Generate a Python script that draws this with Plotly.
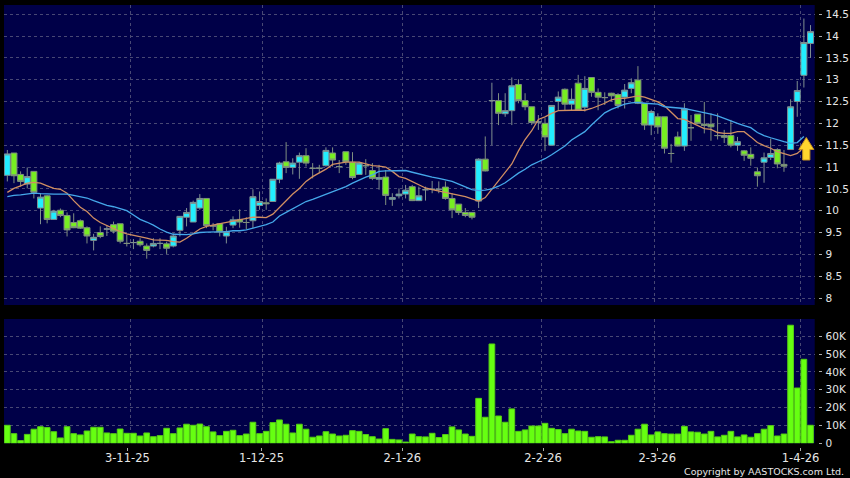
import plotly.graph_objects as go

opens = [10.81,11.32,10.83,10.61,10.90,10.06,10.34,9.80,10.01,9.89,
 9.73,9.77,9.61,9.32,9.50,9.58,9.68,9.70,9.25,9.27,
 9.30,9.19,9.19,9.25,9.24,9.19,9.55,9.85,9.74,10.06,
 10.28,9.65,9.70,9.42,9.67,9.80,9.73,9.77,10.12,10.18,
 10.21,10.72,11.12,10.99,11.11,11.26,10.97,10.97,11.03,11.32,
 11.01,11.35,11.11,10.83,11.03,10.92,10.72,10.77,10.26,10.34,
 10.38,10.55,10.23,10.48,10.49,10.49,10.54,10.28,10.15,9.96,
 9.96,10.22,11.18,12.52,12.52,12.22,12.29,12.89,12.52,12.38,
 12.03,12.00,11.50,12.50,12.78,12.44,12.92,12.37,13.05,12.71,
 12.59,12.69,12.66,12.60,12.80,12.99,12.46,11.96,12.15,12.15,
 11.31,11.69,11.48,11.90,12.21,11.98,11.98,11.72,11.72,11.72,
 11.50,11.37,11.29,10.89,11.11,11.22,11.40,11.06,11.40,12.50,13.10,13.83]
closes = [11.30,10.80,10.67,10.78,10.42,10.31,9.80,9.99,9.89,9.56,
 9.61,9.60,9.42,9.39,9.41,9.58,9.53,9.30,9.25,9.27,
 9.22,9.09,9.25,9.25,9.14,9.42,9.87,9.96,10.19,10.28,
 9.66,9.65,9.51,9.52,9.79,9.74,9.73,10.32,10.21,10.16,
 10.72,11.09,10.99,11.09,11.26,11.09,10.97,10.97,11.38,11.16,
 11.01,11.12,10.76,11.09,11.03,10.74,10.76,10.35,10.30,10.38,
 10.47,10.23,10.34,10.48,10.49,10.49,10.28,10.02,9.96,9.89,
 9.85,11.18,10.91,12.52,12.23,12.29,12.86,12.52,12.38,12.02,
 12.03,11.69,12.41,12.60,12.44,12.55,12.30,12.80,12.71,12.60,
 12.59,12.63,12.41,12.76,12.93,12.46,11.96,12.27,11.92,11.43,
 11.31,11.48,12.33,11.90,12.00,11.95,11.92,11.72,11.68,11.50,
 11.58,11.27,11.20,10.80,11.21,11.31,11.07,11.02,12.38,12.75,13.85,14.10]
highs = [11.39,11.32,10.90,10.99,10.90,10.40,10.36,10.02,10.05,9.96,
 9.94,9.80,9.64,9.47,9.64,9.67,9.75,9.70,9.45,9.35,
 9.37,9.25,9.37,9.37,9.29,9.48,9.87,10.06,10.23,10.38,
 10.28,9.72,9.71,9.63,9.87,10.03,9.85,10.49,10.44,10.28,
 10.72,11.12,11.57,11.20,11.33,11.43,11.09,11.05,11.45,11.45,
 11.16,11.35,11.34,11.12,11.18,11.09,11.05,10.93,10.40,10.51,
 10.59,10.59,10.55,10.55,10.68,10.67,10.67,10.40,10.15,10.06,
 9.96,11.20,11.70,12.93,12.69,12.69,13.05,13.01,12.69,12.38,
 12.19,12.12,12.41,12.73,12.80,12.80,13.11,13.08,13.05,12.80,
 12.71,12.70,12.69,12.90,13.03,13.31,12.46,12.31,12.23,12.15,
 11.53,11.81,12.46,12.19,12.21,12.49,12.23,12.23,11.85,12.08,
 11.69,11.39,11.45,10.99,11.33,11.65,11.43,11.39,12.55,12.97,14.40,14.25]
lows = [10.67,10.63,10.55,10.51,10.28,9.69,9.71,9.79,9.85,9.41,
 9.60,9.58,9.25,9.09,9.37,9.42,9.48,9.25,9.18,9.12,
 9.18,8.90,9.16,9.12,9.01,9.16,9.41,9.64,9.74,10.02,
 9.60,9.55,9.41,9.25,9.60,9.61,9.58,9.60,10.02,10.02,
 10.20,10.63,10.86,10.83,10.73,11.01,10.74,10.86,11.01,11.01,
 10.86,11.05,10.72,10.82,10.82,10.70,10.48,10.13,10.11,10.28,
 10.28,10.22,10.22,10.23,10.40,10.40,10.25,9.83,9.90,9.85,
 9.80,10.06,10.90,11.50,11.96,12.15,11.96,12.46,12.30,11.96,
 11.85,11.37,11.50,12.30,12.30,12.30,12.30,12.27,12.61,12.30,
 12.42,12.50,12.34,12.34,12.69,12.44,11.85,11.73,11.76,11.31,
 11.10,11.47,11.37,11.60,11.98,11.77,11.60,11.63,11.55,11.45,
 11.37,11.14,11.03,10.55,10.64,11.16,10.97,10.89,11.40,12.15,12.82,13.50]
volumes_k = [10.1,5.4,1.5,5.0,7.9,9.3,8.8,6.5,3.0,9.3,
 5.4,4.7,6.9,9.0,9.0,5.8,5.4,8.0,5.6,5.6,
 4.1,5.8,3.7,4.3,8.4,5.4,8.6,10.7,10.1,10.8,
 9.3,6.4,4.3,6.7,7.3,4.3,5.2,11.8,5.4,6.7,
 11.6,13.1,10.7,5.8,10.7,7.9,3.4,4.1,6.5,5.2,
 4.1,4.5,7.1,6.7,4.9,3.7,2.4,8.2,2.2,1.9,
 0.7,5.2,3.7,3.6,5.6,3.2,4.9,9.2,7.5,5.2,
 3.9,25.2,14.6,55.7,15.3,11.8,19.3,6.7,7.5,9.7,
 9.7,11.2,8.4,7.7,5.4,7.9,6.9,6.7,3.4,3.7,
 3.6,0.9,1.7,1.7,4.5,7.9,10.7,4.7,6.4,5.4,
 5.2,5.2,9.5,6.4,6.2,5.2,6.7,3.6,4.5,6.7,
 3.6,4.7,3.4,5.4,7.9,9.9,4.1,5.2,66.2,31.0,47.1,10.1]
ma_short = [10.42,10.51,10.57,10.63,10.65,10.63,10.57,10.51,10.49,10.40,
 10.23,10.08,9.98,9.83,9.73,9.66,9.60,9.52,9.47,9.44,
 9.41,9.37,9.33,9.32,9.32,9.29,9.28,9.37,9.47,9.58,
 9.64,9.67,9.70,9.73,9.77,9.80,9.83,9.85,9.85,9.84,
 9.92,10.08,10.23,10.38,10.51,10.67,10.78,10.86,10.95,11.06,
 11.09,11.11,11.11,11.11,11.07,11.03,11.02,11.00,10.90,10.78,
 10.74,10.67,10.59,10.52,10.48,10.45,10.42,10.38,10.36,10.32,
 10.27,10.22,10.30,10.49,10.69,10.86,11.07,11.37,11.63,11.83,
 12.09,12.15,12.23,12.29,12.30,12.30,12.30,12.30,12.34,12.40,
 12.46,12.54,12.57,12.57,12.60,12.63,12.60,12.55,12.49,12.40,
 12.25,12.11,12.09,12.02,11.94,11.88,11.86,11.79,11.77,11.77,
 11.81,11.81,11.69,11.56,11.49,11.43,11.35,11.30,11.26,11.31,11.45,None]
ma_long = [10.32,10.35,10.36,10.38,10.40,10.39,10.38,10.38,10.38,10.38,
 10.35,10.32,10.29,10.23,10.18,10.12,10.09,10.04,10.00,9.90,
 9.80,9.74,9.67,9.58,9.51,9.46,9.45,9.45,9.47,9.50,
 9.51,9.51,9.51,9.52,9.54,9.54,9.56,9.60,9.65,9.68,
 9.74,9.88,9.96,10.04,10.12,10.21,10.26,10.32,10.38,10.43,
 10.49,10.55,10.63,10.70,10.77,10.82,10.90,10.91,10.91,10.92,
 10.92,10.88,10.84,10.80,10.77,10.74,10.70,10.67,10.61,10.54,
 10.48,10.46,10.47,10.50,10.56,10.64,10.76,10.86,10.95,11.05,
 11.12,11.19,11.28,11.39,11.48,11.62,11.71,11.81,11.96,12.11,
 12.24,12.32,12.38,12.44,12.47,12.48,12.46,12.45,12.44,12.38,
 12.37,12.35,12.34,12.31,12.28,12.24,12.21,12.17,12.11,12.06,
 12.00,11.95,11.90,11.79,11.72,11.67,11.62,11.58,11.54,11.56,11.70,None]
date_labels = ["3-11-25", "1-12-25", "2-1-26", "2-2-26", "2-3-26", "1-4-26"]
date_ticks = [18.08, 38.3, 59.5, 80.7, 97.9, 119.5]
date_grid = [18.5, 38.4, 59.5, 80.5, 97.5, 119.5]
price_ticks = [8, 8.5, 9, 9.5, 10, 10.5, 11, 11.5, 12, 12.5, 13, 13.5, 14, 14.5]
price_labels = ["8", "8.5", "9", "9.5", "10", "10.5", "11", "11.5", "12", "12.5", "13", "13.5", "14", "14.5"]
vol_ticks = [0, 10, 20, 30, 40, 50, 60]
vol_labels = ["0", "10K", "20K", "30K", "40K", "50K", "60K"]

W, H = 850, 478
days = list(range(len(closes)))
BG = "#000048"
GRID = "#484874"
FONT = "DejaVu Sans"
TXT = "#e6e6e6"


def fy(y):
    return (H - y) / H


fig = go.Figure()
fig.add_trace(go.Candlestick(
    x=days, open=opens, high=highs, low=lows, close=closes,
    increasing=dict(fillcolor="#22eeff", line=dict(color="#7f8f8f", width=1)),
    decreasing=dict(fillcolor="#77ee22", line=dict(color="#7f8f7f", width=1)),
    whiskerwidth=0, xaxis="x", yaxis="y", showlegend=False,
))
fig.add_trace(go.Scatter(x=days, y=ma_short, mode="lines", line=dict(color="#d08e62", width=1.3),
                         xaxis="x", yaxis="y", showlegend=False))
fig.add_trace(go.Scatter(x=days, y=ma_long, mode="lines", line=dict(color="#45a8ea", width=1.3),
                         xaxis="x", yaxis="y", showlegend=False))
fig.add_trace(go.Bar(x=days, y=volumes_k, width=0.86,
                     marker=dict(color="#66ff11", line=dict(color="#55cc14", width=1)),
                     xaxis="x2", yaxis="y2", showlegend=False))

xcommon = dict(range=[-0.5, 121.63], showline=False, zeroline=False, showgrid=False, automargin=False,
               rangeslider=dict(visible=False), domain=[4 / W, 814.7 / W],
               minor=dict(tickvals=date_grid, showgrid=True, gridcolor=GRID, griddash="3px,3px",
                          gridwidth=1, ticks=""))
ycommon = dict(side="right", zeroline=False, showline=False, showgrid=True, gridcolor=GRID, automargin=False,
               griddash="3px,3px", gridwidth=1, ticks="outside", ticklen=3, tickcolor="#aaaaaa",
               tickfont=dict(family=FONT, size=10.5, color=TXT), anchor="free", position=817.5 / W,
               ticklabelstandoff=2)

fig.update_layout(
    template="none",
    width=W, height=H, margin=dict(l=0, r=0, t=0, b=0, pad=0),
    paper_bgcolor="#000000", plot_bgcolor=BG, boxmode="overlay", boxgap=0.1, boxgroupgap=0, bargap=0.1,
    showlegend=False,
    font=dict(family=FONT, color=TXT),
    xaxis=dict(xcommon, showticklabels=False, ticks="", anchor="y"),
    xaxis2=dict(xcommon, anchor="free", position=fy(446.5), tickmode="array", tickvals=date_ticks,
                ticktext=date_labels, ticks="outside", ticklen=3, tickcolor="#aaaaaa",
                tickfont=dict(family=FONT, size=11.5, color=TXT), tickangle=0, ticklabelstandoff=-2),
    yaxis=dict(ycommon, domain=[fy(305), fy(5)], range=[7.84, 14.71], tickmode="array",
               tickvals=price_ticks, ticktext=price_labels),
    yaxis2=dict(ycommon, domain=[fy(443.3), fy(319)], range=[0, 69.7], tickmode="array",
                tickvals=vol_ticks, ticktext=vol_labels),
    annotations=[dict(text="Copyright by AASTOCKS.com Ltd.", xref="paper", yref="paper",
                      x=846 / W, y=fy(471), xanchor="right", yanchor="middle", showarrow=False,
                      font=dict(family=FONT, size=9.5, color=TXT))],
)


def arrow_path(cx, top, head, bot, hw, sw):
    pts = [(cx, top), (cx + hw, head), (cx + sw, head), (cx + sw, bot),
           (cx - sw, bot), (cx - sw, head), (cx - hw, head)]
    return "M " + " L ".join(f"{x / W:.5f},{fy(y):.5f}" for x, y in pts) + " Z"


fig.add_shape(type="path", xref="paper", yref="paper", path=arrow_path(806.3, 137.5, 149.5, 160, 7.5, 3.6),
              fillcolor="#ffd62e", line=dict(color="#c8941e", width=1), layer="above")

fig.write_html("out.html", config=dict(displayModeBar=False), post_script="document.body.style.margin='0';")
